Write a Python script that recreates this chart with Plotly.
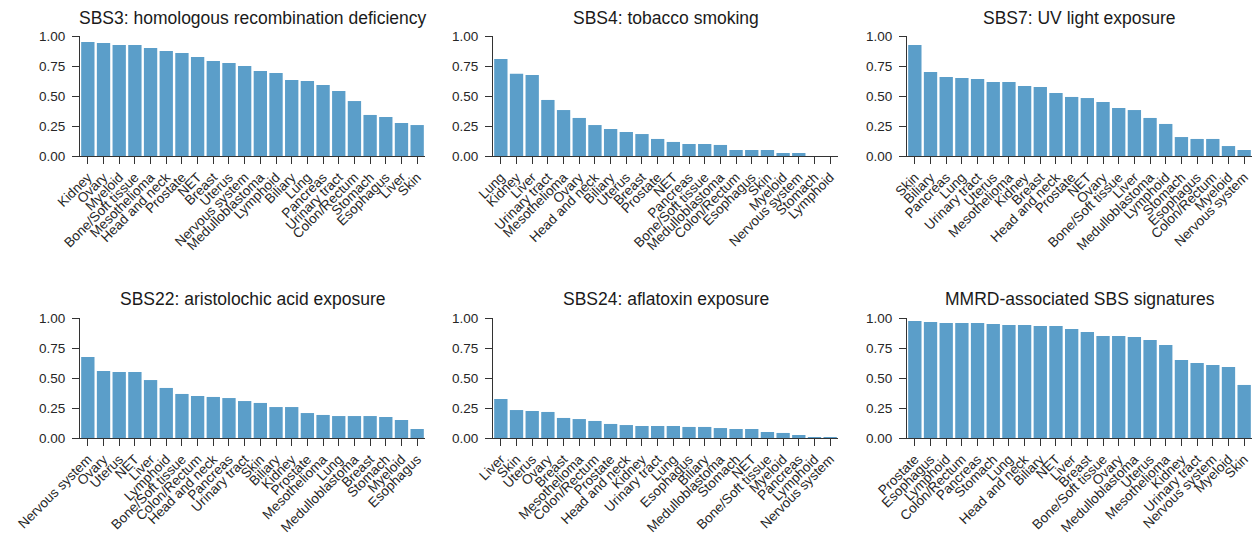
import plotly.graph_objects as go

W, H = 1256, 534

titles = [
    "SBS3: homologous recombination deficiency",
    "SBS4: tobacco smoking",
    "SBS7: UV light exposure",
    "SBS22: aristolochic acid exposure",
    "SBS24: aflatoxin exposure",
    "MMRD-associated SBS signatures",
]

sbs3_cats = ["Kidney", "Ovary", "Myeloid", "Bone/Soft tissue", "Mesothelioma", "Head and neck",
             "Prostate", "NET", "Breast", "Uterus", "Nervous system", "Medulloblastoma", "Lymphoid",
             "Biliary", "Lung", "Pancreas", "Urinary tract", "Colon/Rectum", "Stomach", "Esophagus",
             "Liver", "Skin"]
sbs3_vals = [0.95, 0.942, 0.925, 0.925, 0.90, 0.875, 0.858, 0.825, 0.792, 0.775, 0.75, 0.708,
             0.692, 0.633, 0.625, 0.592, 0.542, 0.458, 0.342, 0.325, 0.275, 0.258]

sbs4_cats = ["Lung", "Kidney", "Liver", "Urinary tract", "Mesothelioma", "Ovary", "Head and neck",
             "Biliary", "Uterus", "Breast", "Prostate", "NET", "Pancreas", "Bone/Soft tissue",
             "Medulloblastoma", "Colon/Rectum", "Esophagus", "Skin", "Myeloid", "Nervous system",
             "Stomach", "Lymphoid"]
sbs4_vals = [0.808, 0.686, 0.675, 0.467, 0.383, 0.317, 0.258, 0.225, 0.20, 0.183, 0.142, 0.117,
             0.10, 0.10, 0.092, 0.05, 0.05, 0.05, 0.025, 0.025, 0.0, 0.0]

sbs7_cats = ["Skin", "Biliary", "Pancreas", "Lung", "Urinary tract", "Uterus", "Mesothelioma",
             "Kidney", "Breast", "Head and neck", "Prostate", "NET", "Ovary", "Bone/Soft tissue",
             "Liver", "Medulloblastoma", "Lymphoid", "Stomach", "Esophagus", "Colon/Rectum",
             "Myeloid", "Nervous system"]
sbs7_vals = [0.925, 0.70, 0.658, 0.65, 0.642, 0.617, 0.617, 0.583, 0.575, 0.525, 0.492, 0.483,
             0.45, 0.40, 0.383, 0.317, 0.267, 0.158, 0.142, 0.142, 0.083, 0.05]

sbs22_cats = ["Nervous system", "Ovary", "Uterus", "NET", "Liver", "Lymphoid", "Bone/Soft tissue",
              "Colon/Rectum", "Head and neck", "Pancreas", "Urinary tract", "Skin", "Biliary",
              "Kidney", "Prostate", "Mesothelioma", "Lung", "Medulloblastoma", "Breast", "Stomach",
              "Myeloid", "Esophagus"]
sbs22_vals = [0.675, 0.558, 0.55, 0.55, 0.483, 0.417, 0.367, 0.35, 0.342, 0.333, 0.308, 0.292,
              0.258, 0.258, 0.208, 0.192, 0.183, 0.183, 0.183, 0.175, 0.15, 0.075]

sbs24_cats = ["Liver", "Skin", "Uterus", "Ovary", "Breast", "Mesothelioma", "Colon/Rectum",
              "Prostate", "Head and neck", "Kidney", "Urinary tract", "Lung", "Esophagus", "Biliary",
              "Medulloblastoma", "Stomach", "NET", "Bone/Soft tissue", "Myeloid", "Pancreas",
              "Lymphoid", "Nervous system"]
sbs24_vals = [0.325, 0.233, 0.225, 0.217, 0.167, 0.158, 0.142, 0.117, 0.108, 0.10, 0.10, 0.10,
              0.092, 0.092, 0.083, 0.075, 0.075, 0.05, 0.042, 0.025, 0.008, 0.008]

mmrd_cats = ["Prostate", "Esophagus", "Lymphoid", "Colon/Rectum", "Pancreas", "Stomach", "Lung",
             "Head and neck", "Biliary", "NET", "Liver", "Breast", "Bone/Soft tissue", "Ovary",
             "Medulloblastoma", "Uterus", "Mesothelioma", "Kidney", "Urinary tract",
             "Nervous system", "Myeloid", "Skin"]
mmrd_vals = [0.975, 0.967, 0.958, 0.958, 0.958, 0.95, 0.942, 0.942, 0.933, 0.933, 0.908, 0.883,
             0.85, 0.85, 0.842, 0.817, 0.775, 0.65, 0.625, 0.608, 0.592, 0.442]

panels = [
    (sbs3_cats, sbs3_vals), (sbs4_cats, sbs4_vals), (sbs7_cats, sbs7_vals),
    (sbs22_cats, sbs22_vals), (sbs24_cats, sbs24_vals), (mmrd_cats, mmrd_vals),
]

ytick_vals = [0, 0.25, 0.5, 0.75, 1.0]

BAR = "#5b9ec9"
AX = "#333333"
FONT = "Liberation Sans, Arial, sans-serif"

# pixel layout of plot areas
xpix = [(80, 425), (493, 838), (907, 1252)]
ypix = [(36, 156), (318, 438)]
title_y = [18, 299]

fig = go.Figure()
layout = dict(
    width=W, height=H,
    margin=dict(l=0, r=0, t=0, b=0),
    paper_bgcolor="white", plot_bgcolor="white",
    showlegend=False,
    bargap=0.15,
    font=dict(family=FONT, color="#262626", size=13),
)
annotations = []
for i, (cats, vals) in enumerate(panels):
    r, c = divmod(i, 3)
    n = i + 1
    xa = "x" if n == 1 else f"x{n}"
    ya = "y" if n == 1 else f"y{n}"
    fig.add_trace(go.Bar(x=list(range(len(cats))), y=vals, marker=dict(color=BAR, line=dict(width=0)),
                         xaxis=xa, yaxis=ya))
    x0, x1 = xpix[c]
    y0, y1 = ypix[r]
    xkey = "xaxis" if n == 1 else f"xaxis{n}"
    ykey = "yaxis" if n == 1 else f"yaxis{n}"
    layout[xkey] = dict(
        domain=[x0 / W, x1 / W], anchor=ya,
        range=[-0.5, len(cats) - 0.5],
        tickmode="array", tickvals=list(range(len(cats))), ticktext=cats,
        tickangle=-45, ticks="outside", ticklen=7, tickwidth=1, tickcolor=AX,
        showline=True, linecolor=AX, linewidth=1, showgrid=False, zeroline=False,
        tickfont=dict(size=13.6, family=FONT, color="#262626"), automargin=False,
    )
    layout[ykey] = dict(
        domain=[1 - y1 / H, 1 - y0 / H], anchor=xa,
        range=[0, 1], tickmode="array", tickvals=ytick_vals, tickformat=".2f",
        ticks="outside", ticklen=7, tickwidth=1, tickcolor=AX, ticklabelstandoff=4,
        showline=True, linecolor=AX, linewidth=1, showgrid=False, zeroline=False,
        tickfont=dict(size=13.5, family=FONT, color="#262626"), automargin=False,
    )
    annotations.append(dict(
        text=titles[i], x=(x0 + x1) / 2 / W, y=1 - title_y[r] / H,
        xref="paper", yref="paper", xanchor="center", yanchor="middle",
        showarrow=False, font=dict(size=17.5, family=FONT, color="#1a1a1a"),
    ))
layout["annotations"] = annotations
fig.update_layout(**layout)
fig.write_html(
    "out.html",
    config={"displayModeBar": False},
    post_script="document.body.style.margin='0';document.body.style.overflow='hidden';",
)
